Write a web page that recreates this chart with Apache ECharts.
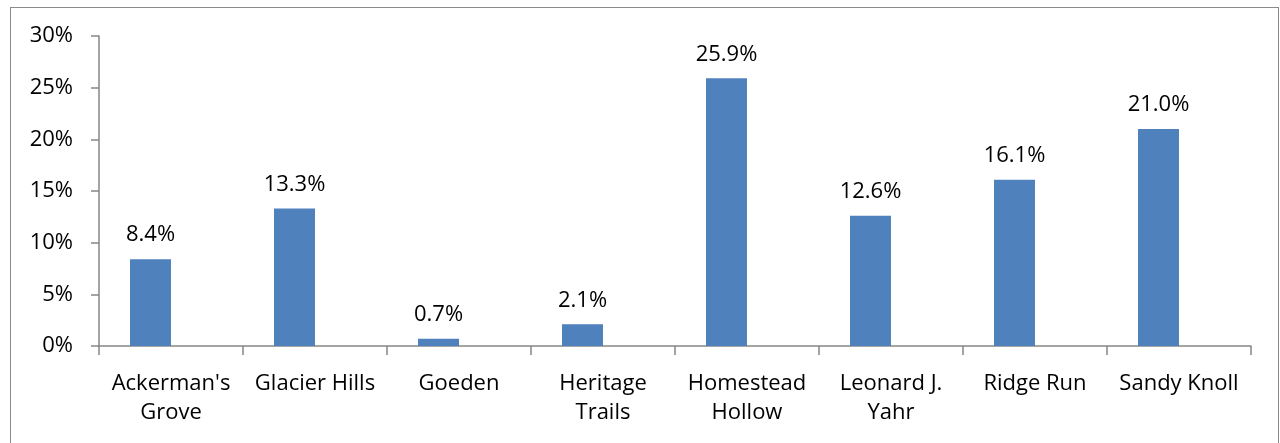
<!DOCTYPE html>
<html>
<head>
<meta charset="utf-8">
<script src="https://cdn.jsdelivr.net/npm/echarts@6/dist/echarts.min.js"></script>
<style>
  html, body { margin: 0; padding: 0; background: #fff; }
  #chart { width: 1280px; height: 443px; }
  .frame {
    position: absolute; left: 10px; top: 7px; width: 1267px; height: 450px;
    border: 1px solid #8a8a8a; pointer-events: none;
  }
</style>
</head>
<body>
<div id="chart"></div>
<div class="frame"></div>
<script>
// categories and values (percent)
const categories = ["Ackerman's\nGrove", 'Glacier Hills', 'Goeden', 'Heritage\nTrails',
  'Homestead\nHollow', 'Leonard J.\nYahr', 'Ridge Run', 'Sandy Knoll']
const shares = [8.4, 13.3, 0.7, 2.1, 25.9, 12.6, 16.1, 21.0]
// the source chart has a second, empty series, which pushes the bars left of centre
const blank = [null, null, null, null, null, null, null, null]
const yTicks = [0, 5, 10, 15, 20, 25, 30]

const font = '"Open Sans", Lato, sans-serif'
const chart = echarts.init(document.getElementById('chart'))

chart.setOption({
  animation: false,
  grid: { left: 99, right: 29, top: 36, bottom: 97 },
  xAxis: {
    type: 'category',
    data: categories,
    axisLine: { lineStyle: { color: '#868686', width: 1.5 } },
    axisTick: { show: true, length: 9, alignWithLabel: false, lineStyle: { color: '#868686', width: 1.5 } },
    axisLabel: { color: '#000', fontFamily: font, fontSize: 22, lineHeight: 29, margin: 23, interval: 0 }
  },
  yAxis: {
    type: 'value',
    min: yTicks[0],
    max: yTicks[yTicks.length - 1],
    interval: 5,
    axisLine: { show: true, lineStyle: { color: '#868686', width: 1.5 } },
    axisTick: { show: true, inside: false, length: 8, lineStyle: { color: '#868686', width: 1.5 } },
    splitLine: { show: false },
    axisLabel: { color: '#000', fontFamily: font, fontSize: 22, margin: 26, formatter: v => v + '%' }
  },
  series: [{
    type: 'bar',
    data: shares,
    barWidth: 41,
    barGap: '0%',
    itemStyle: { color: '#4F81BD' },
    label: {
      show: true,
      position: 'top',
      distance: 13,
      color: '#000',
      fontFamily: font,
      fontSize: 22,
      formatter: p => p.value.toFixed(1) + '%'
    }
  }, {
    type: 'bar',
    data: blank,
    barWidth: 41,
    barGap: '0%',
    itemStyle: { color: '#C0504D' }
  }]
})
</script>
</body>
</html>
